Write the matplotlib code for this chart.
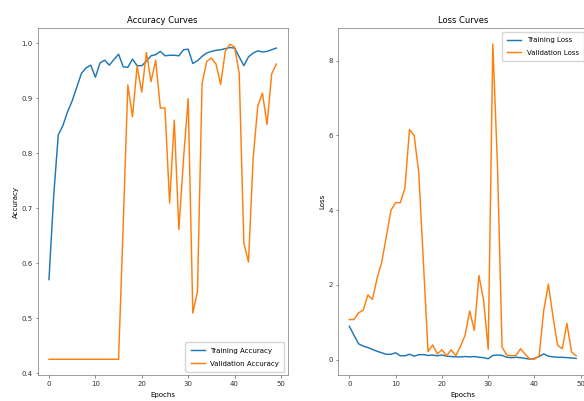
import matplotlib
matplotlib.use("Agg")
import matplotlib.pyplot as plt
import numpy as np

epochs = list(range(50))

train_acc = [0.57, 0.72, 0.833, 0.850, 0.875, 0.895, 0.920, 0.945, 0.955, 0.960,
             0.938, 0.964, 0.969, 0.960, 0.970, 0.980, 0.957, 0.956, 0.971, 0.959,
             0.959, 0.967, 0.977, 0.979, 0.985, 0.977, 0.978, 0.978, 0.977, 0.988,
             0.989, 0.963, 0.968, 0.976, 0.982, 0.985, 0.987, 0.988, 0.990, 0.992,
             0.991, 0.975, 0.959, 0.975, 0.982, 0.986, 0.984, 0.985, 0.988, 0.991]

val_acc = [0.425] * 16 + [0.67, 0.924, 0.866, 0.958, 0.911, 0.983, 0.930, 0.969,
           0.882, 0.882, 0.709, 0.860, 0.661, 0.790, 0.899, 0.509, 0.548, 0.927,
           0.967, 0.973, 0.962, 0.925, 0.985, 0.998, 0.993, 0.945, 0.636, 0.602,
           0.790, 0.886, 0.909, 0.852, 0.944, 0.962]

train_loss = [0.89, 0.65, 0.42, 0.36, 0.32, 0.27, 0.22, 0.18, 0.14, 0.14,
              0.18, 0.10, 0.10, 0.14, 0.09, 0.13, 0.13, 0.11, 0.12, 0.10,
              0.12, 0.09, 0.08, 0.07, 0.07, 0.08, 0.07, 0.08, 0.06, 0.05,
              0.02, 0.11, 0.12, 0.11, 0.06, 0.05, 0.06, 0.05, 0.03, 0.01,
              0.03, 0.08, 0.15, 0.09, 0.07, 0.06, 0.06, 0.05, 0.04, 0.03]

val_loss = [1.07, 1.07, 1.25, 1.32, 1.73, 1.61, 2.18, 2.61, 3.30, 4.00,
            4.20, 4.20, 4.58, 6.16, 6.00, 5.00, 2.60, 0.21, 0.39, 0.15,
            0.26, 0.10, 0.26, 0.10, 0.35, 0.65, 1.30, 0.78, 2.25, 1.59,
            0.27, 8.45, 5.20, 0.33, 0.12, 0.10, 0.11, 0.29, 0.14, 0.01,
            0.01, 0.10, 1.32, 2.02, 1.14, 0.38, 0.29, 0.97, 0.20, 0.10]

s = 0.5  # scale of the original rendering
W, H = 584, 401
fig = plt.figure(figsize=(W / 100, H / 100), dpi=100)

def px_axes(left, right, top, bottom):
    return fig.add_axes([left / W, (H - bottom) / H, (right - left) / W, (bottom - top) / H])

ax1 = px_axes(37.6, 287.7, 28.3, 375.2)
ax2 = px_axes(338.0, 587.5, 28.3, 375.2)

for ax in (ax1, ax2):
    for sp in ax.spines.values():
        sp.set_linewidth(0.8 * s)
        sp.set_color('#555555')
    ax.tick_params(labelsize=10 * s, width=0.8 * s, length=3.5 * s, colors='#333333')
    ax.tick_params(axis='x', pad=4.5 * s, length=4.5 * s)
    ax.tick_params(axis='y', pad=3.5 * s)

lw = 1.5 * s * 1.4
leg_kw = dict(fontsize=10 * s, frameon=True, borderaxespad=0.5, handlelength=2.0,
              framealpha=0.8, borderpad=0.75, labelspacing=1.0)

ax1.plot(epochs, train_acc, color='#1f77b4', lw=lw, label='Training Accuracy')
ax1.plot(epochs, val_acc, color='#ff7f0e', lw=lw, label='Validation Accuracy')
ax1.set_title('Accuracy Curves', fontsize=12 * s, pad=7 * s)
ax1.set_xlabel('Epochs', fontsize=10 * s, labelpad=7 * s)
ax1.set_ylabel('Accuracy', fontsize=10 * s, labelpad=4 * s)
ax1.set_xlim(-2.45, 51.45)
ax1.set_ylim(0.396, 1.027)
ax1.set_xticks([0, 10, 20, 30, 40, 50])
ax1.set_yticks([0.4, 0.5, 0.6, 0.7, 0.8, 0.9, 1.0])
ax1.legend(loc='lower right', **leg_kw)

ax2.plot(epochs, train_loss, color='#1f77b4', lw=lw, label='Training Loss')
ax2.plot(epochs, val_loss, color='#ff7f0e', lw=lw, label='Validation Loss')
ax2.set_title('Loss Curves', fontsize=12 * s, pad=7 * s)
ax2.set_xlabel('Epochs', fontsize=10 * s, labelpad=7 * s)
ax2.set_ylabel('Loss', fontsize=10 * s, labelpad=4 * s)
ax2.set_xlim(-2.45, 51.45)
ax2.set_ylim(-0.42, 8.87)
ax2.set_xticks([0, 10, 20, 30, 40, 50])
ax2.set_yticks([0, 2, 4, 6, 8])
ax2.legend(loc='upper right', **leg_kw)

fig.savefig('out.png', dpi=100)
